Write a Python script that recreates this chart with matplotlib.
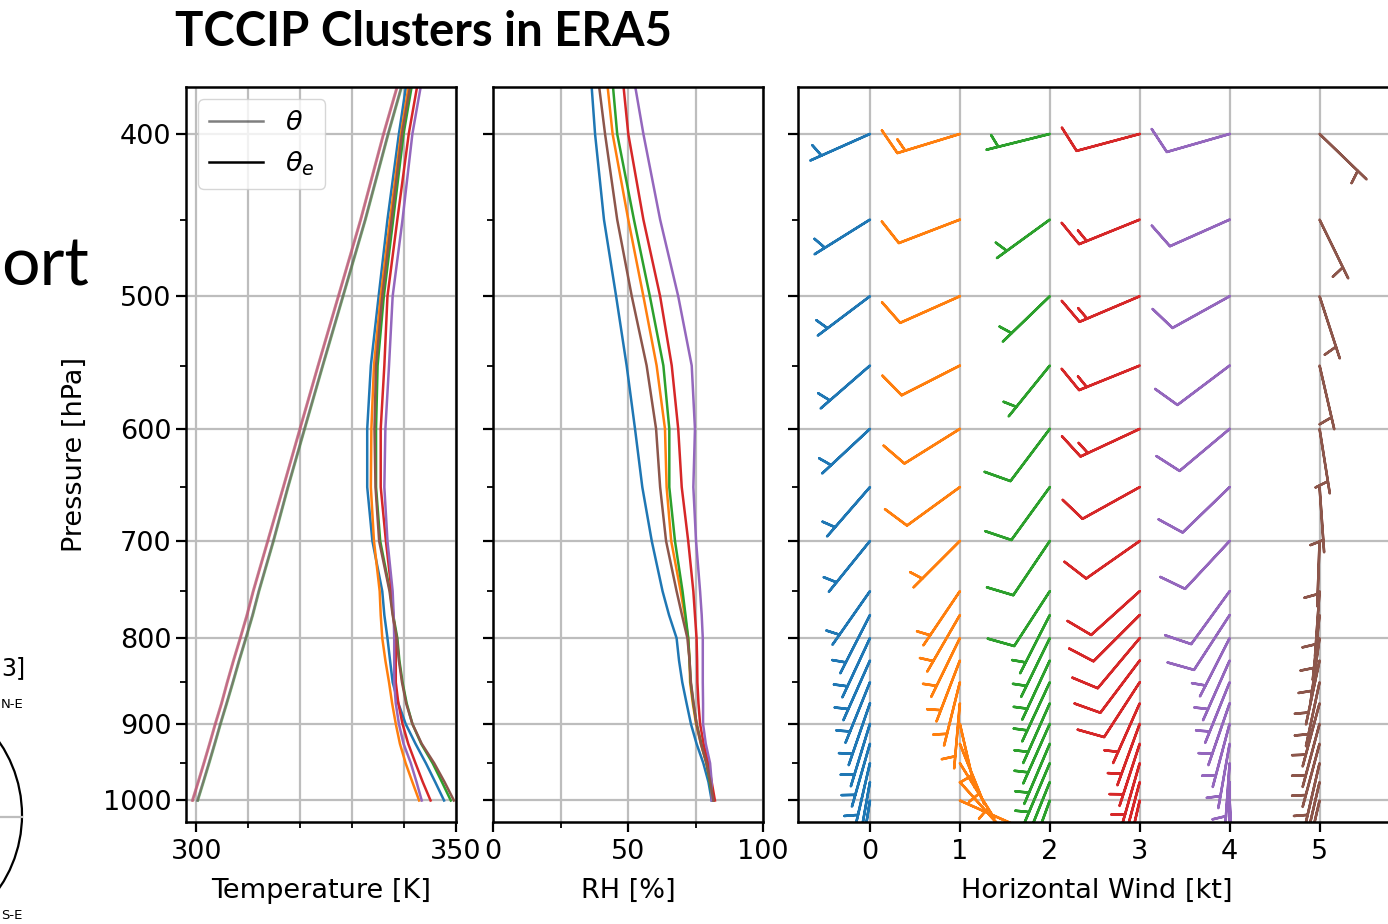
import numpy as np
import matplotlib.pyplot as plt
from matplotlib.patches import Circle
from matplotlib.lines import Line2D
from matplotlib.ticker import NullFormatter

# pressure levels [hPa]
plev = [350, 400, 450, 500, 550, 600, 650, 700, 750, 775, 800, 825, 850, 875, 900, 925, 950, 975, 1000]
wlev = plev[1:]

names = ['blue', 'orange', 'green', 'red', 'purple', 'brown']
colors = ['C0', 'C1', 'C2', 'C3', 'C4', 'C5']

# potential temperature [K]
theta = {
    'blue':   [342.2, 336.9, 332.5, 328.2, 324.3, 320.8, 317.6, 314.8, 312.0, 310.8, 309.5, 308.2, 307.0, 305.8, 304.6, 303.5, 302.4, 301.3, 300.2],
    'orange': [341.4, 336.0, 331.6, 327.3, 323.4, 319.9, 316.7, 313.7, 310.9, 309.7, 308.4, 307.1, 305.9, 304.8, 303.6, 302.5, 301.4, 300.3, 299.2],
    'green':  [342.3, 337.0, 332.6, 328.3, 324.4, 320.9, 317.7, 314.9, 312.1, 310.9, 309.6, 308.3, 307.1, 305.9, 304.7, 303.6, 302.5, 301.4, 300.3],
    'red':    [341.5, 336.1, 331.7, 327.4, 323.5, 320.0, 316.8, 313.8, 311.0, 309.8, 308.5, 307.2, 306.0, 304.9, 303.7, 302.6, 301.5, 300.4, 299.3],
    'purple': [341.4, 336.0, 331.6, 327.3, 323.4, 319.9, 316.7, 313.7, 310.9, 309.7, 308.4, 307.1, 305.9, 304.8, 303.6, 302.5, 301.4, 300.3, 299.2],
    'brown':  [342.2, 336.9, 332.5, 328.2, 324.3, 320.8, 317.6, 314.8, 312.0, 310.8, 309.5, 308.2, 307.0, 305.8, 304.6, 303.5, 302.4, 301.3, 300.2],
}

# equivalent potential temperature [K]
theta_e = {
    'blue':   [341.8, 339.0, 336.8, 335.1, 333.6, 332.9, 332.9, 333.9, 335.8, 336.2, 336.8, 337.3, 337.8, 338.9, 340.3, 342.2, 344.2, 346.0, 347.7],
    'orange': [342.4, 339.4, 337.3, 335.5, 334.2, 333.7, 333.6, 334.2, 335.3, 335.5, 335.8, 336.4, 337.1, 337.7, 338.4, 339.2, 340.3, 341.6, 342.9],
    'green':  [343.1, 339.9, 337.9, 336.1, 334.9, 334.6, 334.6, 335.4, 337.3, 337.9, 338.7, 339.1, 339.7, 340.5, 341.6, 343.3, 345.5, 347.3, 349.0],
    'red':    [344.2, 340.9, 338.7, 336.8, 336.2, 335.5, 335.5, 336.5, 337.6, 337.9, 338.4, 338.4, 338.4, 338.9, 339.7, 340.8, 342.2, 343.6, 345.1],
    'purple': [344.9, 341.6, 339.7, 337.8, 337.1, 336.4, 336.2, 336.8, 337.8, 338.0, 338.1, 338.1, 338.1, 338.4, 339.0, 339.9, 341.3, 342.4, 343.4],
    'brown':  [342.8, 339.6, 337.6, 335.8, 334.6, 334.3, 334.5, 335.2, 337.2, 337.8, 338.6, 339.0, 339.6, 340.4, 341.6, 343.4, 345.8, 347.8, 349.6],
}

# relative humidity [%]
rh = {
    'blue':   [35.2, 37.8, 41.1, 45.6, 49.5, 52.6, 55.3, 58.8, 62.8, 65.2, 68.0, 68.9, 70.1, 71.7, 73.3, 75.4, 77.9, 79.8, 81.0],
    'orange': [40.5, 44.3, 50.1, 55.7, 60.6, 63.7, 64.3, 66.0, 69.5, 71.0, 72.3, 72.8, 73.0, 74.0, 75.2, 77.0, 79.0, 80.4, 81.6],
    'green':  [42.8, 46.0, 52.2, 58.1, 63.1, 65.3, 65.3, 67.4, 70.2, 71.3, 72.3, 72.8, 73.2, 74.2, 75.4, 77.2, 79.1, 80.3, 81.4],
    'red':    [46.5, 50.1, 55.7, 61.9, 66.2, 68.6, 69.9, 72.3, 74.2, 74.8, 75.4, 75.6, 75.7, 76.1, 76.7, 78.0, 79.7, 81.0, 82.2],
    'purple': [49.5, 55.7, 61.9, 68.6, 73.6, 74.8, 74.2, 75.2, 76.7, 77.3, 77.7, 77.7, 77.7, 77.8, 77.8, 78.8, 80.4, 81.0, 81.0],
    'brown':  [37.0, 41.5, 46.0, 51.4, 56.9, 60.4, 61.9, 64.1, 68.0, 70.0, 72.0, 72.8, 73.3, 74.3, 75.4, 77.0, 79.1, 80.5, 81.6],
}

# wind direction (from, deg) and speed [kt] at wlev
wdir = {
    'blue':   [246, 238, 233, 229, 227, 221, 219, 215, 207, 205, 204, 202, 199, 197, 196, 193, 190, 189],
    'orange': [253, 249, 246, 243, 238, 234, 225, 214, 210, 206, 201, 194, 185, 167, 158, 148, 138, 114],
    'green':  [256, 234, 226, 219, 217, 216, 214, 213, 207, 206, 205, 205, 204, 204, 203, 203, 202, 200],
    'red':    [255, 248, 247, 248, 245, 241, 235, 228, 225, 220, 217, 213, 204, 200, 198, 196, 195, 193],
    'purple': [254, 246, 241, 233, 230, 226, 223, 216, 213, 207, 204, 202, 199, 195, 190, 184, 180, 177],
    'brown':  [134, 154, 162, 167, 171, 176, 182, 184, 186, 188, 192, 192, 195, 195, 195, 193, 193, 193],
}
wspd = {
    'blue':   [4.6, 5.3, 5.8, 6.1, 6.2, 6.0, 5.7, 5.4, 5.6, 5.9, 6.1, 6.2, 6.1, 5.9, 5.6, 5.2, 4.6, 3.8],
    'orange': [14.2, 10.8, 10.5, 10.2, 9.8, 9.3, 6.2, 5.8, 5.6, 5.4, 5.2, 5.0, 4.6, 4.8, 5.4, 6.0, 6.4, 6.6],
    'green':  [4.5, 5.5, 6.0, 6.5, 8.5, 9.0, 9.2, 8.8, 6.6, 6.5, 6.4, 6.3, 6.2, 6.0, 5.8, 5.5, 5.2, 4.8],
    'red':    [10.5, 14.0, 14.5, 13.8, 13.2, 11.5, 11.0, 10.6, 10.3, 10.0, 9.6, 9.0, 6.8, 6.5, 6.2, 5.9, 5.6, 5.2],
    'purple': [10.2, 10.8, 11.2, 11.5, 11.4, 11.0, 10.5, 9.8, 8.6, 6.9, 6.6, 6.3, 6.0, 5.6, 5.0, 4.2, 3.5, 3.0],
    'brown':  [5.5, 5.8, 5.6, 5.2, 4.8, 4.5, 4.3, 4.6, 5.0, 5.3, 5.6, 5.8, 6.0, 6.1, 6.0, 5.8, 5.4, 5.0],
}

pticks = [400, 500, 600, 700, 800, 900, 1000]
pminor = [450, 550, 650, 750, 850, 950]

plt.rcParams['font.size'] = 19.5
plt.rcParams['axes.linewidth'] = 1.8

W, H = 1388, 924
fig = plt.figure(figsize=(W / 100, H / 100), dpi=100)

def box(x0, x1, y0=87, y1=822):
    return [x0 / W, 1 - y1 / H, (x1 - x0) / W, (y1 - y0) / H]

ax1 = fig.add_axes(box(186, 456))
ax2 = fig.add_axes(box(493, 763))
ax3 = fig.add_axes(box(798, 1396))

for ax in (ax1, ax2, ax3):
    ax.set_yscale('log')
    ax.set_ylim(1030, 375)
    ax.set_yticks(pticks)
    ax.set_yticklabels([str(p) for p in pticks])
    ax.set_yticks(pminor, minor=True)
    ax.yaxis.set_minor_formatter(NullFormatter())
    ax.tick_params(which='major', length=7, width=1.6)
    ax.tick_params(which='minor', length=4, width=1.3)
    ax.tick_params(axis='x', which='major', pad=5.5)
    ax.grid(True, which='major', color='#bdbdbd', lw=1.6)
    ax.set_axisbelow(True)

# temperature panel
for name, c in zip(names, colors):
    ax1.plot(theta[name], plev, color=c, lw=1.8, alpha=0.5)
    ax1.plot(theta_e[name], plev, color=c, lw=1.8)
ax1.set_xlim(298, 350)
ax1.set_xticks([300, 350])
ax1.set_xticks([310, 320, 330, 340], minor=True)
ax1.xaxis.grid(True, which='minor', color='#bdbdbd', lw=1.6)
ax1.set_xlabel('Temperature [K]', labelpad=9)
ax1.set_ylabel('Pressure [hPa]', labelpad=11)
handles = [Line2D([], [], color='k', alpha=0.5, lw=1.8),
           Line2D([], [], color='k', lw=1.8)]
ax1.legend(handles, [r'$\theta$', r'$\theta_e$'], loc='upper left', borderaxespad=0.45)

# RH panel
for name, c in zip(names, colors):
    ax2.plot(rh[name], plev, color=c, lw=1.8)
ax2.set_xlim(0, 100)
ax2.set_xticks([0, 50, 100])
ax2.set_xticks([25, 75], minor=True)
ax2.xaxis.grid(True, which='minor', color='#bdbdbd', lw=1.6)
ax2.set_xlabel('RH [%]', labelpad=9)
ax2.tick_params(labelleft=False)

# wind panel
for i, (name, c) in enumerate(zip(names, colors)):
    d = np.deg2rad(wdir[name])
    s = np.array(wspd[name])
    u = -s * np.sin(d)
    v = -s * np.cos(d)
    ax3.barbs(np.full(len(wlev), i), wlev, u, v, color=c, length=9.7, linewidth=1.8)
ax3.set_xlim(-0.8, 5.85)
ax3.set_xticks(range(6))
ax3.set_xlabel('Horizontal Wind [kt]', labelpad=9)
ax3.tick_params(labelleft=False)

# slide text and neighbouring fragments
fig.text(175 / W, 1 - 32 / H, 'TCCIP Clusters in ERA5', fontsize=34, fontweight='bold',
         family='Lato', va='center', ha='left')
fig.text(1 / W, 1 - 266 / H, 'ort', fontsize=49, family='Lato', va='center', ha='left')
fig.text(1 / W, 1 - 668 / H, '3]', fontsize=17, va='center', ha='left')
fig.text(1 / W, 1 - 705 / H, 'N-E', fontsize=9.5, va='center', ha='left')
fig.text(1 / W, 1 - 922 / H, 'S-E', fontsize=9.5, va='bottom', ha='left')
fig.patches.append(Circle((-1.07, (H - 815) / 100), 1.29, transform=fig.dpi_scale_trans,
                          fill=False, ec='k', lw=1.6))
fig.lines.append(Line2D([0, 22 / W], [1 - 817 / H, 1 - 817 / H], transform=fig.transFigure,
                        color='#bdbdbd', lw=1.6))

fig.savefig('out.png', dpi=100)
